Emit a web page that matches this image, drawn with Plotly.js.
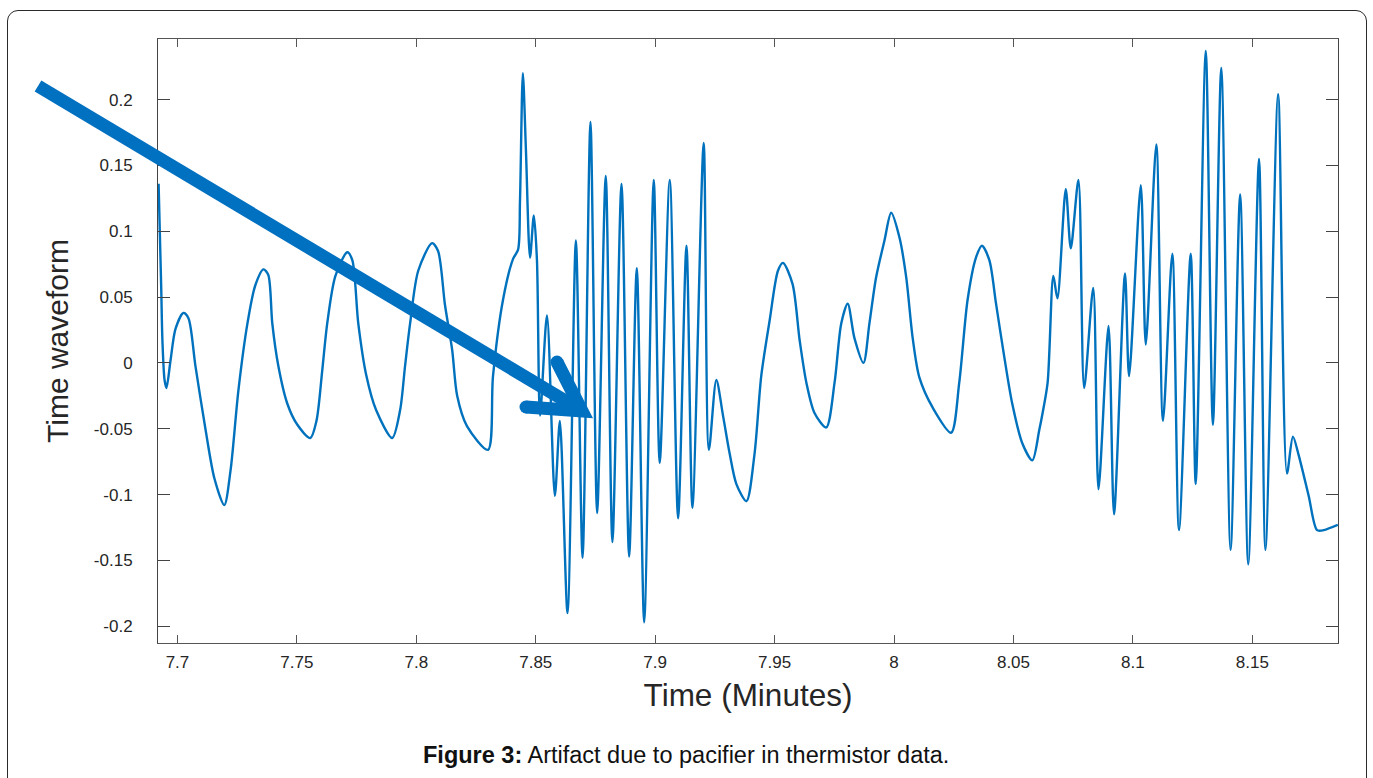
<!DOCTYPE html>
<html>
<head>
<meta charset="utf-8">
<script src="https://cdn.plot.ly/plotly-3.0.1.min.js"></script>
<style>
  html, body { margin:0; padding:0; background:#fff; }
  #frame { position:absolute; left:7px; top:10px; width:1360px; height:800px;
           border:1.4px solid #2a2a2a; border-radius:11px; box-sizing:border-box; }
  #chart { position:absolute; left:0; top:0; width:1373px; height:778px; }
</style>
</head>
<body>
<div id="frame"></div>
<div id="chart"></div>
<script>
// Time axis (minutes) and thermistor waveform values
const timeMinutes = [
  7.6921, 7.6932, 7.6937, 7.6946, 7.6954, 7.6971, 7.6992, 7.7025, 7.7046, 7.7075,
  7.7117, 7.7155, 7.7196, 7.7222, 7.7255, 7.7293, 7.7326, 7.7360, 7.7380, 7.7397,
  7.7422, 7.7460, 7.7502, 7.7556, 7.7582, 7.7606, 7.7627, 7.7661, 7.7711, 7.7732,
  7.7757, 7.7790, 7.7832, 7.7899, 7.7932, 7.7953, 7.7974, 7.8008, 7.8066, 7.8091,
  7.8120, 7.8150, 7.8171, 7.8212, 7.8300, 7.8321, 7.8363, 7.8405, 7.8426, 7.8434,
  7.8446, 7.8459, 7.8476, 7.8492, 7.8505, 7.8518, 7.8547, 7.8580, 7.8601, 7.8633,
  7.8668, 7.8696, 7.8729, 7.8757, 7.8793, 7.8821, 7.8859, 7.8891, 7.8923, 7.8954,
  7.8994, 7.9019, 7.9061, 7.9096, 7.9131, 7.9156, 7.9203, 7.9225, 7.9256, 7.9284,
  7.9312, 7.9340, 7.9382, 7.9416, 7.9444, 7.9479, 7.9514, 7.9535, 7.9575, 7.9605,
  7.9633, 7.9667, 7.9716, 7.9751, 7.9779, 7.9806, 7.9834, 7.9872, 7.9897, 7.9925,
  7.9960, 7.9988, 8.0023, 8.0051, 8.0078, 8.0106, 8.0162, 8.0239, 8.0273, 8.0308,
  8.0343, 8.0368, 8.0399, 8.0427, 8.0462, 8.0495, 8.0537, 8.0579, 8.0608, 8.0622,
  8.0643, 8.0667, 8.0684, 8.0719, 8.0740, 8.0772, 8.0796, 8.0834, 8.0856, 8.0898,
  8.0921, 8.0967, 8.0984, 8.1033, 8.1054, 8.1098, 8.1126, 8.1165, 8.1193, 8.1242,
  8.1263, 8.1305, 8.1335, 8.1370, 8.1409, 8.1449, 8.1483, 8.1528, 8.1555, 8.1608,
  8.1645, 8.1670, 8.1694, 8.1736, 8.1771, 8.1799, 8.1858
];
const timeWaveform = [
  0.136, 0.057, 0.017, -0.013, -0.019, 0.002, 0.026, 0.038, 0.034, -0.002,
  -0.050, -0.088, -0.108, -0.082, -0.021, 0.030, 0.059, 0.071, 0.067, 0.030,
  -0.002, -0.031, -0.047, -0.057, -0.044, -0.006, 0.030, 0.066, 0.084, 0.078,
  0.030, -0.009, -0.036, -0.057, -0.036, -0.002, 0.030, 0.070, 0.091, 0.085,
  0.044, 0.010, -0.025, -0.048, -0.066, -0.010, 0.048, 0.079, 0.086, 0.123,
  0.220, 0.161, 0.080, 0.112, 0.078, -0.040, 0.036, -0.101, -0.044, -0.190,
  0.093, -0.148, 0.183, -0.114, 0.142, -0.136, 0.136, -0.147, 0.072, -0.197,
  0.139, -0.076, 0.139, -0.118, 0.089, -0.110, 0.167, -0.066, -0.013, -0.040,
  -0.069, -0.092, -0.105, -0.069, -0.010, 0.032, 0.070, 0.076, 0.060, 0.017,
  -0.015, -0.038, -0.049, -0.015, 0.030, 0.045, 0.019, 0.000, 0.030, 0.065,
  0.093, 0.114, 0.095, 0.065, 0.019, -0.011, -0.034, -0.053, -0.015, 0.048,
  0.080, 0.089, 0.078, 0.045, 0.004, -0.031, -0.061, -0.074, -0.051, -0.038,
  -0.015, 0.066, 0.049, 0.132, 0.087, 0.139, -0.019, 0.057, -0.096, 0.028,
  -0.115, 0.068, -0.010, 0.135, 0.014, 0.166, -0.044, 0.083, -0.127, 0.083,
  -0.092, 0.237, -0.047, 0.224, -0.142, 0.128, -0.153, 0.155, -0.142, 0.204,
  -0.084, -0.056, -0.070, -0.101, -0.127, -0.127, -0.123
];

const xTickValues = [7.7, 7.75, 7.8, 7.85, 7.9, 7.95, 8.0, 8.05, 8.1, 8.15];
const xTickLabels = ["7.7", "7.75", "7.8", "7.85", "7.9", "7.95", "8", "8.05", "8.1", "8.15"];
const yTickValues = [0.2, 0.15, 0.1, 0.05, 0, -0.05, -0.1, -0.15, -0.2];
const yTickLabels = ["0.2", "0.15", "0.1", "0.05", "0", "-0.05", "-0.1", "-0.15", "-0.2"];

const xAxisTitle = "Time (Minutes)";
const yAxisTitle = "Time waveform";
const captionBold = "Figure 3:";
const captionText = " Artifact due to pacifier in thermistor data.";

const FONT = "'Liberation Sans', Arial, Helvetica, sans-serif";
const BLUE = "#0072BD";
const ARROW = "#0070C0";

// layout geometry (pixels)
const W = 1373, H = 778, ML = 158, MR = 35, MT = 39, MB = 135;
const PW = W - ML - MR, PH = H - MT - MB;
const px = x => (x - ML) / PW;          // page px -> paper x
const py = y => (H - MB - y) / PH;      // page px -> paper y

const trace = {
  x: timeMinutes, y: timeWaveform, type: 'scatter', mode: 'lines',
  line: { color: BLUE, width: 2.4, shape: 'spline', smoothing: 0.8 },
  hoverinfo: 'skip', showlegend: false
};

// arrow geometry (page px)
const shaftStart = [38, 86], vertex = [582, 411];
const barbUp = [557, 362], barbLow = [526, 407];
const capR = 6.5;
const dot = (c) => ({ type: 'circle', xref: 'paper', yref: 'paper', layer: 'above',
  x0: px(c[0] - capR), x1: px(c[0] + capR), y0: py(c[1] + capR), y1: py(c[1] - capR),
  fillcolor: ARROW, line: { width: 0 } });

const layout = {
  width: W, height: H,
  paper_bgcolor: 'rgba(0,0,0,0)', plot_bgcolor: '#ffffff',
  margin: { l: ML, r: MR, t: MT, b: MB, pad: 0 },
  font: { family: FONT, color: '#262626' },
  showlegend: false,
  xaxis: {
    range: [7.69185, 8.18587], autorange: false,
    tickvals: xTickValues, ticktext: xTickLabels,
    ticks: 'inside', ticklen: 8, tickwidth: 1, tickcolor: '#555',
    showline: true, linecolor: '#555', linewidth: 1, mirror: 'ticks',
    showgrid: false, zeroline: false,
    tickfont: { family: FONT, size: 17, color: '#262626' },
    ticklabelstandoff: 4,
    title: { text: xAxisTitle, font: { family: FONT, size: 31.5, color: '#262626' }, standoff: 12 }
  },
  yaxis: {
    range: [-0.2127, 0.2460], autorange: false,
    tickvals: yTickValues, ticktext: yTickLabels,
    ticks: 'inside', ticklen: 12, tickwidth: 1, tickcolor: '#444',
    showline: true, linecolor: '#444', linewidth: 1, mirror: 'ticks',
    showgrid: false, zeroline: false,
    tickfont: { family: FONT, size: 17, color: '#262626' },
    ticklabelstandoff: 21,
    title: { text: yAxisTitle, font: { family: FONT, size: 30, color: '#262626' }, standoff: 16 }
  },
  shapes: [
    { type: 'line', xref: 'paper', yref: 'paper', layer: 'above',
      x0: px(shaftStart[0]), y0: py(shaftStart[1]), x1: px(vertex[0] - 8), y1: py(vertex[1] - 5),
      line: { color: ARROW, width: 13 } },
    { type: 'path', xref: 'paper', yref: 'paper', layer: 'above',
      path: `M ${px(barbUp[0])} ${py(barbUp[1])} L ${px(vertex[0])} ${py(vertex[1])} L ${px(barbLow[0])} ${py(barbLow[1])}`,
      line: { color: ARROW, width: 13 }, fillcolor: 'rgba(0,0,0,0)' },
    dot(barbUp), dot(barbLow)
  ],
  annotations: [
    { xref: 'paper', yref: 'paper', x: px(686), y: py(755), xanchor: 'center', yanchor: 'middle',
      showarrow: false, text: '<b>' + captionBold + '</b>' + captionText,
      font: { family: FONT, size: 23.5, color: '#111' } }
  ]
};

Plotly.newPlot('chart', [trace], layout, { staticPlot: true, displayModeBar: false });
</script>
</body>
</html>
